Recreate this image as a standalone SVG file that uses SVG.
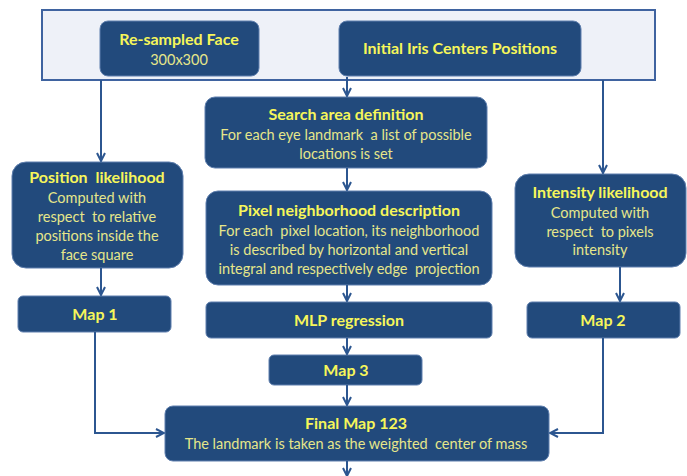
<svg xmlns="http://www.w3.org/2000/svg" width="687" height="476" viewBox="0 0 687 476">
  <defs>
    <marker id="arrow" viewBox="0 0 10 10" refX="9" refY="5" markerWidth="10" markerHeight="10" markerUnits="userSpaceOnUse" orient="auto">
      <path d="M1,1 L9,5 L1,9" fill="none" stroke="#2c5690" stroke-width="2"/>
    </marker>
  </defs>
  <style>
    .box { fill: #224a7c; stroke: #5f7fae; stroke-width: 1; }
    .frame { fill: #eef1f8; stroke: #3f63a0; stroke-width: 2; }
    .title { font-family: Lato, "Liberation Sans", sans-serif; font-weight: bold; font-size: 16px; fill: #f6f65a; text-anchor: middle; white-space: pre; }
    .body { font-family: Lato, "Liberation Sans", sans-serif; font-size: 14.5px; fill: #e6e68a; text-anchor: middle; white-space: pre; }
    .link { fill: none; stroke: #2c5690; stroke-width: 2; marker-end: url(#arrow); }
  </style>

  <!-- input frame -->
  <rect id="inputs" class="frame" x="42" y="10" width="613" height="70"/>

  <g id="resampled-face">
    <rect class="box" x="100" y="21" width="159" height="55" rx="8"/>
    <text class="title" x="179" y="45">Re-sampled Face</text>
    <text class="body" x="179" y="65">300x300</text>
  </g>

  <g id="iris-centers">
    <rect class="box" x="339" y="21" width="242" height="55" rx="8"/>
    <text class="title" x="460" y="54">Initial Iris Centers Positions</text>
  </g>

  <g id="search-area">
    <rect class="box" x="205" y="97" width="282" height="71" rx="10"/>
    <text class="title" x="346" y="120">Search area definition</text>
    <text class="body" x="346" y="140">For each eye landmark  a list of possible</text>
    <text class="body" x="346" y="159">locations is set</text>
  </g>

  <g id="pixel-neighborhood">
    <rect class="box" x="206" y="191" width="286" height="94" rx="12"/>
    <text class="title" x="349" y="216">Pixel neighborhood description</text>
    <text class="body" x="349" y="236">For each  pixel location, its neighborhood</text>
    <text class="body" x="349" y="255">is described by horizontal and vertical</text>
    <text class="body" x="349" y="274">integral and respectively edge  projection</text>
  </g>

  <g id="mlp-regression">
    <rect class="box" x="206" y="302" width="286" height="36" rx="5"/>
    <text class="title" x="349" y="326">MLP regression</text>
  </g>

  <g id="map3">
    <rect class="box" x="269" y="355" width="153" height="30" rx="5"/>
    <text class="title" x="346" y="376">Map 3</text>
  </g>

  <g id="position-likelihood">
    <rect class="box" x="12" y="162" width="171" height="106" rx="14"/>
    <text class="title" x="97" y="183">Position  likelihood</text>
    <text class="body" x="97" y="203">Computed with</text>
    <text class="body" x="97" y="222">respect  to relative</text>
    <text class="body" x="97" y="241">positions inside the</text>
    <text class="body" x="97" y="260">face square</text>
  </g>

  <g id="map1">
    <rect class="box" x="18" y="296" width="153" height="36" rx="5"/>
    <text class="title" x="95" y="320">Map 1</text>
  </g>

  <g id="intensity-likelihood">
    <rect class="box" x="515" y="174" width="171" height="93" rx="14"/>
    <text class="title" x="600" y="198">Intensity likelihood</text>
    <text class="body" x="600" y="218">Computed with</text>
    <text class="body" x="600" y="237">respect  to pixels</text>
    <text class="body" x="600" y="255">intensity</text>
  </g>

  <g id="map2">
    <rect class="box" x="527" y="302" width="153" height="36" rx="5"/>
    <text class="title" x="603" y="326">Map 2</text>
  </g>

  <g id="final-map">
    <rect class="box" x="165" y="406" width="384" height="55" rx="8"/>
    <text class="title" x="356" y="429">Final Map 123</text>
    <text class="body" x="356" y="449">The landmark is taken as the weighted  center of mass</text>
  </g>

  <g id="connectors">
    <path class="link" d="M101,80 V161"/>
    <path class="link" d="M347,77 V96"/>
    <path class="link" d="M603,80 V173"/>
    <path class="link" d="M347,168 V190"/>
    <path class="link" d="M347,285 V301"/>
    <path class="link" d="M347,338 V354"/>
    <path class="link" d="M347,385 V405"/>
    <path class="link" d="M347,461 V476"/>
    <path class="link" d="M101,268 V295"/>
    <path class="link" d="M620,267 V301"/>
    <path class="link" d="M95,332 V433 H164"/>
    <path class="link" d="M603,338 V433 H550"/>
  </g>
</svg>
